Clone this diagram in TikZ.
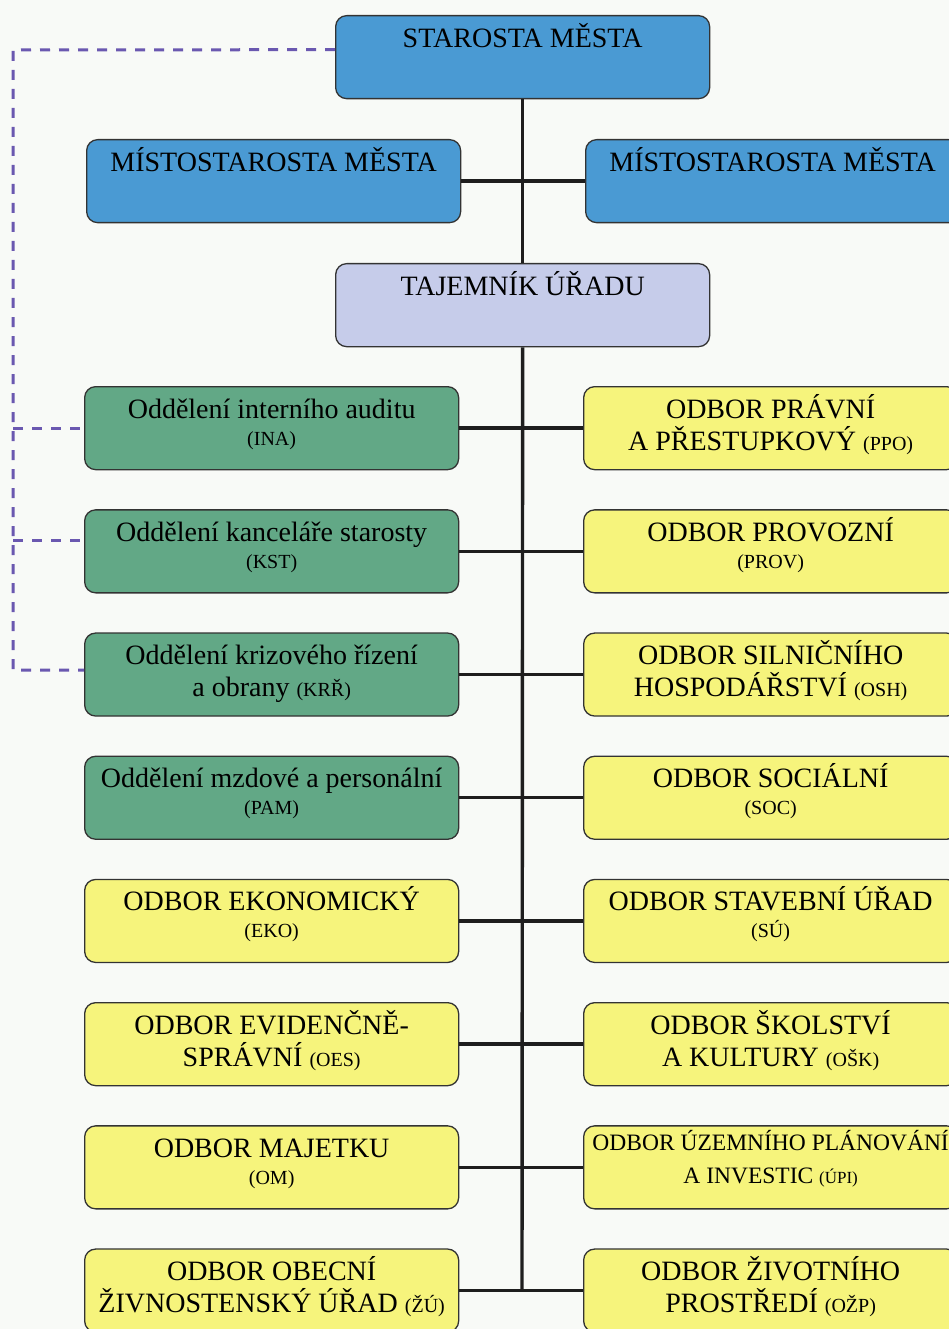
\documentclass[tikz,border=0pt]{standalone}
\usepackage{fontspec}
\setmainfont{Liberation Serif}
\definecolor{bgc}{HTML}{F8FAF7}
\definecolor{blueb}{HTML}{4A9AD3}
\definecolor{greenb}{HTML}{62A886}
\definecolor{yellowb}{HTML}{F6F47C}
\definecolor{lavb}{HTML}{C6CCEA}
\definecolor{dashc}{HTML}{6A58B0}
\definecolor{linec}{HTML}{1E1E1E}
\newcommand{\orgbox}[2][31.5pt]{\parbox[b][83pt][t]{374pt}{\centering\fontsize{28}{32}\selectfont\rule{0pt}{#1}#2\par}}
\newcommand{\smallabbr}[1]{{\fontsize{20}{24}\selectfont #1}}
\tikzset{
  orgnode/.style={draw=black!80, line width=1.3pt, rounded corners=11pt, inner sep=0pt, anchor=north west},
  bluebox/.style={orgnode, fill=blueb},
  lavbox/.style={orgnode, fill=lavb},
  greenbox/.style={orgnode, fill=greenb},
  yellowbox/.style={orgnode, fill=yellowb},
  conn/.style={draw=linec, line width=3.4pt},
  dashl/.style={draw=dashc, line width=3pt, dash pattern=on 10pt off 9pt}
}
\begin{document}
\begin{tikzpicture}[x=1pt,y=-1pt]
\fill[bgc] (0,0) rectangle (949,1329);
\useasboundingbox (0,0) rectangle (949,1329);

% top
\node[bluebox] (starosta) at (335,15) {\orgbox{STAROSTA MĚSTA}};
\node[bluebox] (mL) at (86,139) {\orgbox{MÍSTOSTAROSTA MĚSTA}};
\node[bluebox] (mR) at (585,139) {\orgbox{MÍSTOSTAROSTA MĚSTA}};
\node[lavbox] (tajemnik) at (335,263) {\orgbox{TAJEMNÍK ÚŘADU}};

% left column
\node[greenbox] (l1) at (84,386) {\orgbox{Oddělení interního auditu\\[-5pt]\smallabbr{(INA)}}};
\node[greenbox] (l2) at (84,509.2) {\orgbox{Oddělení kanceláře starosty\\[-5pt]\smallabbr{(KST)}}};
\node[greenbox] (l3) at (84,632.4) {\orgbox{Oddělení krizového řízení\\a obrany \smallabbr{(KRŘ)}}};
\node[greenbox] (l4) at (84,755.6) {\orgbox{Oddělení mzdové a personální\\[-5pt]\smallabbr{(PAM)}}};
\node[yellowbox] (l5) at (84,878.8) {\orgbox{ODBOR EKONOMICKÝ\\[-5pt]\smallabbr{(EKO)}}};
\node[yellowbox] (l6) at (84,1002) {\orgbox{ODBOR EVIDENČNĚ-\\SPRÁVNÍ \smallabbr{(OES)}}};
\node[yellowbox] (l7) at (84,1125.2) {\orgbox{ODBOR MAJETKU\\[-5pt]\smallabbr{(OM)}}};
\node[yellowbox] (l8) at (84,1248.4) {\orgbox{ODBOR OBECNÍ\\ŽIVNOSTENSKÝ ÚŘAD \smallabbr{(ŽÚ)}}};

% right column
\node[yellowbox] (r1) at (583,386) {\orgbox{ODBOR PRÁVNÍ\\A PŘESTUPKOVÝ \smallabbr{(PPO)}}};
\node[yellowbox] (r2) at (583,509.2) {\orgbox{ODBOR PROVOZNÍ\\[-5pt]\smallabbr{(PROV)}}};
\node[yellowbox] (r3) at (583,632.4) {\orgbox{ODBOR SILNIČNÍHO\\HOSPODÁŘSTVÍ \smallabbr{(OSH)}}};
\node[yellowbox] (r4) at (583,755.6) {\orgbox{ODBOR SOCIÁLNÍ\\[-5pt]\smallabbr{(SOC)}}};
\node[yellowbox] (r5) at (583,878.8) {\orgbox{ODBOR STAVEBNÍ ÚŘAD\\[-5pt]\smallabbr{(SÚ)}}};
\node[yellowbox] (r6) at (583,1002) {\orgbox{ODBOR ŠKOLSTVÍ\\A KULTURY \smallabbr{(OŠK)}}};
\node[yellowbox] (r7) at (583,1125.2) {\orgbox[25pt]{\fontsize{23.5}{33}\selectfont ODBOR ÚZEMNÍHO PLÁNOVÁNÍ\\A INVESTIC {\fontsize{17}{20}\selectfont (ÚPI)}}};
\node[yellowbox] (r8) at (583,1248.4) {\orgbox{ODBOR ŽIVOTNÍHO\\PROSTŘEDÍ \smallabbr{(OŽP)}}};

% solid connectors
\coordinate (trunkend) at (522,1289.9);
\draw[conn] (starosta.south) -- (tajemnik.north);
\draw[conn] (tajemnik.south) -- (trunkend);
\draw[conn] (mL.east) -- (mR.west);
\foreach \i in {1,...,8} { \draw[conn] (l\i.east) -- (r\i.west); }

% dashed connectors
\coordinate (dtop) at (13,50);
\coordinate (d1) at (13,428);
\coordinate (d2) at (13,540);
\coordinate (d3) at (13,670);
\draw[dashl] ([yshift=7.5pt]starosta.west) -- (dtop) -- (d3) -- (d3 -| l3.west);
\draw[dashl] (d1) -- (d1 -| l1.west);
\draw[dashl] (d2) -- (d2 -| l2.west);
\end{tikzpicture}
\end{document}
